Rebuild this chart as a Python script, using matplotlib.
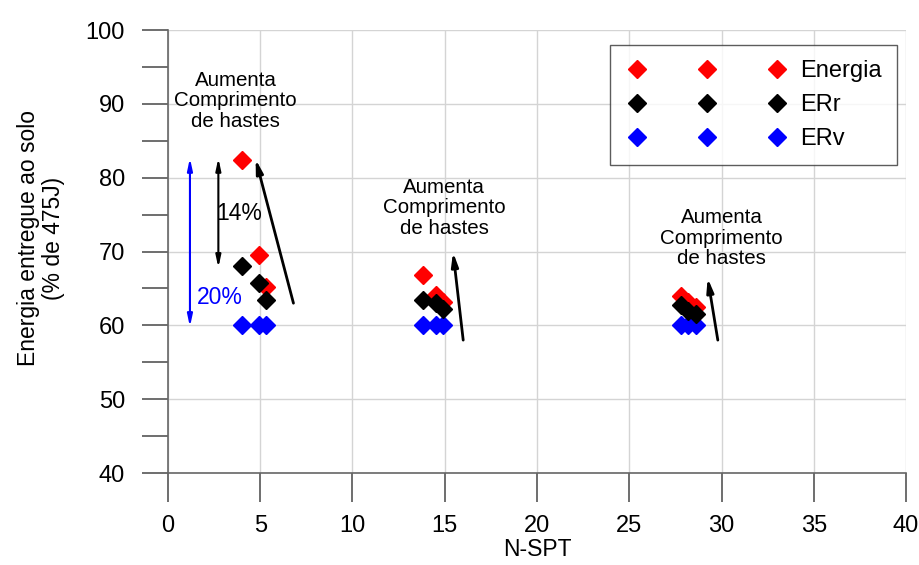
import matplotlib
matplotlib.use("Agg")
import matplotlib.pyplot as plt
from matplotlib.ticker import MultipleLocator

plt.rcParams['font.family'] = ['Liberation Sans', 'DejaVu Sans']

# data: three groups of rod lengths, one per N-SPT level
nspt = [[4.0, 4.93, 5.3], [13.8, 14.55, 14.9], [27.8, 28.2, 28.6]]
energia = [[82.4, 69.5, 65.2], [66.8, 64.1, 63.2], [64.0, 63.2, 62.5]]
err = [[68.0, 65.7, 63.4], [63.4, 63.0, 62.2], [62.8, 62.0, 61.6]]
erv = [[60.0, 60.0, 60.0], [60.0, 60.0, 60.0], [60.0, 60.0, 60.0]]

series_names = ["Energia", "ERr", "ERv"]
series_colors = ["red", "black", "blue"]

# arrows "Aumenta comprimento de hastes": tail, head, text position
arrow_tails = [(6.8, 63.0), (16.0, 58.0), (29.8, 58.0)]
arrow_heads = [(4.75, 82.5), (15.45, 69.9), (29.25, 66.4)]
note_pos = [(3.66, 90.4), (14.96, 75.9), (30.0, 71.8)]
note_text = "Aumenta\nComprimento\nde hastes"

fig = plt.figure(figsize=(9.2, 5.65), dpi=100)
ax = fig.add_axes([0.1826, 0.1628, 0.8022, 0.7841])

hs = {}
zorders = [3, 4, 3.5]
for k, (data, color) in enumerate(zip([energia, err, erv], series_colors)):
    for g in range(3):
        h, = ax.plot(nspt[g], data[g], linestyle='none', marker='D',
                     markersize=9, color=color, zorder=zorders[k])
        hs[(g, k)] = h

leg_handles = [hs[(g, k)] for g in range(3) for k in range(3)]
leg_labels = ['' for _ in range(6)] + series_names
leg = ax.legend(leg_handles, leg_labels, ncol=3, loc='upper right',
                bbox_to_anchor=(0.988, 0.966), fontsize=17, frameon=True,
                fancybox=False, edgecolor='#333333', columnspacing=1.5,
                handletextpad=0.47, labelspacing=0.5, borderpad=0.65,
                handlelength=1.0, borderaxespad=0)
leg.get_frame().set_linewidth(1.0)

for tail, head, pos in zip(arrow_tails, arrow_heads, note_pos):
    ax.annotate('', xy=head, xytext=tail,
                arrowprops=dict(arrowstyle='-|>,head_length=0.8,head_width=0.2',
                                color='black', lw=2, shrinkA=0, shrinkB=0))
    ax.text(pos[0], pos[1], note_text, ha='center', va='center',
            fontsize=14.8, linespacing=1.1)

# 14% and 20% spans
ax.annotate('', xy=(2.73, 82.65), xytext=(2.73, 67.8),
            arrowprops=dict(arrowstyle='<|-|>,head_length=0.7,head_width=0.15',
                            color='black', lw=1.5, shrinkA=0, shrinkB=0))
ax.text(2.62, 75.2, "14%", fontsize=16.5, color='black', va='center')
ax.annotate('', xy=(1.19, 82.65), xytext=(1.19, 59.8),
            arrowprops=dict(arrowstyle='<|-|>,head_length=0.7,head_width=0.15',
                            color='blue', lw=1.5, shrinkA=0, shrinkB=0))
ax.text(1.55, 63.8, "20%", fontsize=16.5, color='blue', va='center')

ax.set_xlim(0, 40)
ax.set_ylim(40, 100)
ax.xaxis.set_major_locator(MultipleLocator(5))
ax.yaxis.set_major_locator(MultipleLocator(10))
ax.yaxis.set_minor_locator(MultipleLocator(5))
ax.grid(True, which='major', color='#d4d4d4', linewidth=1)
ax.set_axisbelow(True)

for side in ['top', 'right']:
    ax.spines[side].set_visible(False)
for side in ['left', 'bottom']:
    ax.spines[side].set_color('#666666')
    ax.spines[side].set_linewidth(1.2)

ax.tick_params(axis='y', which='both', direction='out', length=19,
               width=1.2, color='#555555', labelsize=17, pad=12)
ax.tick_params(axis='x', which='both', direction='out', length=21,
               width=1.2, color='#555555', labelsize=17, pad=9)

ax.set_xlabel("N-SPT", fontsize=16.5)
ax.xaxis.set_label_coords(0.5, -0.147)
ax.set_ylabel("Energia entregue ao solo\n(% de 475J)", fontsize=16.5,
              linespacing=1.1)
ax.yaxis.set_label_coords(-0.14, 0.53)

fig.savefig("out.png", dpi=100)
